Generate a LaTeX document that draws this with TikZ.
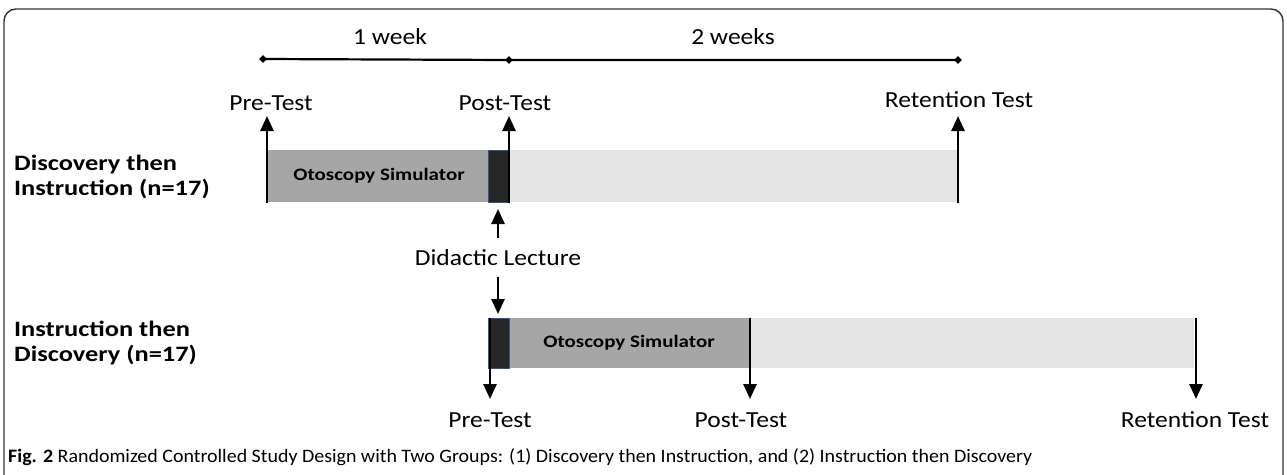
\documentclass[tikz,border=0pt]{standalone}
\usepackage{fontspec}
\usepackage{graphicx}
\setmainfont{Carlito}
\usetikzlibrary{arrows.meta,shapes.geometric}
\definecolor{midgray}{HTML}{A6A6A6}
\definecolor{lightgray2}{HTML}{E4E4E4}
\definecolor{darkbox}{HTML}{262626}
\definecolor{boxline}{HTML}{2F5597}
\definecolor{frame}{HTML}{333333}
\newcommand{\wreg}[1]{\scalebox{1.11}[1]{#1}}
\newcommand{\wbold}[1]{\scalebox{1.2}[1]{#1}}
\tikzset{
  arr/.style={line width=2.6pt,-{Triangle[width=13pt,length=15pt]}},
  lbl/.style={font=\fontsize{23}{26}\selectfont,inner sep=0pt},
  grp/.style={font=\fontsize{22}{25.5}\selectfont\bfseries,align=left,inner sep=0pt,anchor=west},
  sim/.style={font=\fontsize{17.5}{20}\selectfont\bfseries,inner sep=0pt},
  tl/.style={line width=2.2pt},
  dia/.style={diamond,fill=black,inner sep=0pt,minimum size=8pt},
  dk/.style={fill=darkbox,draw=boxline,line width=0.8pt},
}
\begin{document}
\begin{tikzpicture}[x=1pt,y=-1pt]
\useasboundingbox (0,0) rectangle (1287,474);
% frame
\draw[frame,line width=1.4pt,rounded corners=12pt] (4,480) -- (4,9) -- (1283,9) -- (1283,480);
% timeline
\node[lbl] (w1) at (390,37) {\wreg{1 week}};
\node[lbl] (w2) at (733,37) {\wreg{2 weeks}};
\node[dia] (t0) at (263,59) {};
\node[dia] (t1) at (509,60) {};
\node[dia] (t2) at (958,60) {};
\draw[tl] (t0.center) -- (t1.center) -- (t2.center);
% group 1
\fill[midgray] (267,150) rectangle (488,202);
\fill[lightgray2] (509,150) rectangle (958,202);
\draw[dk] (488,150) rectangle (509,202);
\node[sim] (sim1) at (379,176) {\wbold{Otoscopy Simulator}};
\node[grp] (g1) at (14,177) {\wbold{Discovery then}\\\wbold{Instruction (n=17)}};
\node[lbl] (pre1) at (271,103) {\wreg{Pre-Test}};
\node[lbl] (post1) at (505,103) {\wreg{Post-Test}};
\node[lbl] (ret1) at (959,100) {\wreg{Retention Test}};
\coordinate (a1s) at (267,203);
\coordinate (a1e) at (267,116);
\coordinate (a2s) at (509,203);
\coordinate (a2e) at (509,116);
\coordinate (a3s) at (958,203);
\coordinate (a3e) at (958,116);
\draw[arr] (a1s) -- (a1e);
\draw[arr] (a2s) -- (a2e);
\draw[arr] (a3s) -- (a3e);
% didactic lecture
\node[lbl] (did) at (498,258) {\wreg{Didactic Lecture}};
\coordinate (d1s) at (498,238);
\coordinate (d1e) at (498,209);
\coordinate (d2s) at (498,277);
\coordinate (d2e) at (498,314);
\draw[arr] (d1s) -- (d1e);
\draw[arr] (d2s) -- (d2e);
% group 2
\fill[midgray] (509,318) rectangle (749,368);
\fill[lightgray2] (749,318) rectangle (1194,368);
\draw[dk] (488,318) rectangle (509,368);
\node[sim] (sim2) at (629,343) {\wbold{Otoscopy Simulator}};
\node[grp] (g2) at (14,343) {\wbold{Instruction then}\\\wbold{Discovery (n=17)}};
\node[lbl] (pre2) at (490,420) {\wreg{Pre-Test}};
\node[lbl] (post2) at (741,420) {\wreg{Post-Test}};
\node[lbl] (ret2) at (1195,420) {\wreg{Retention Test}};
\coordinate (b1s) at (490,318);
\coordinate (b1e) at (490,399);
\coordinate (b2s) at (750,318);
\coordinate (b2e) at (750,399);
\coordinate (b3s) at (1196,318);
\coordinate (b3e) at (1196,399);
\draw[arr] (b1s) -- (b1e);
\draw[arr] (b2s) -- (b2e);
\draw[arr] (b3s) -- (b3e);
% caption
\node[anchor=west,inner sep=0pt,font=\fontsize{19}{22}\selectfont] (cap) at (8,457) {\scalebox{1.05}[1]{\textbf{Fig. 2} Randomized Controlled Study Design with Two Groups: (1) Discovery then Instruction, and (2) Instruction then Discovery}};
\end{tikzpicture}
\end{document}
